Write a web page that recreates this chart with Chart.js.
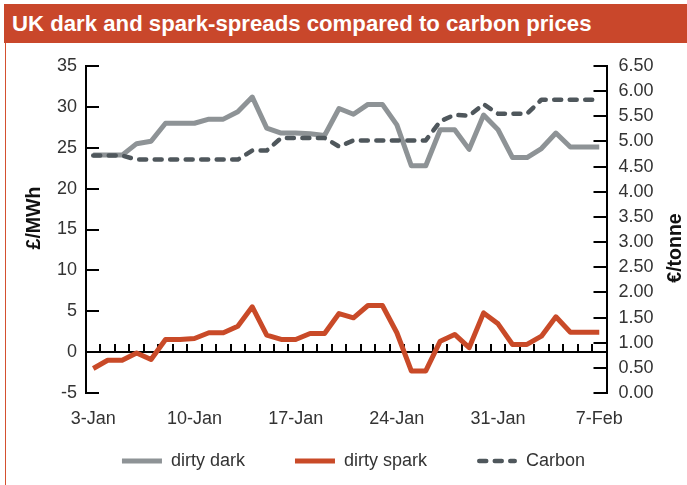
<!DOCTYPE html>
<html>
<head>
<meta charset="utf-8">
<style>
html,body{margin:0;padding:0;background:#fff;}
#wrap{position:relative;width:687px;height:485px;overflow:hidden;background:#fff;}
#banner{position:absolute;left:4px;top:4px;width:683px;height:39px;background:#C9472B;color:#fff;
  font:bold 22.2px "Liberation Sans",Arial,Helvetica,sans-serif;line-height:39px;padding-left:8px;box-sizing:border-box;white-space:nowrap;}
#frame{position:absolute;left:5px;top:43px;width:0;height:442px;border-left:1.5px solid #D4502F;}
canvas{position:absolute;left:0;top:0;}
</style>
<script src="https://cdn.jsdelivr.net/npm/chart.js@4"></script>
</head>
<body>
<div id="wrap">
  <canvas id="c" width="687" height="485"></canvas>
  <div id="frame"></div>
  <div id="banner">UK dark and spark-spreads compared to carbon prices</div>
</div>
<script>
const categories = ['3-Jan','4-Jan','5-Jan','6-Jan','7-Jan','8-Jan','9-Jan','10-Jan','11-Jan','12-Jan',
  '13-Jan','14-Jan','15-Jan','16-Jan','17-Jan','18-Jan','19-Jan','20-Jan','21-Jan','22-Jan',
  '23-Jan','24-Jan','25-Jan','26-Jan','27-Jan','28-Jan','29-Jan','30-Jan','31-Jan','1-Feb',
  '2-Feb','3-Feb','4-Feb','5-Feb','6-Feb','7-Feb'];
const dirtyDark = [24.1,24.1,24.1,25.5,25.8,28.0,28.0,28.0,28.5,28.5,29.4,31.2,27.4,26.8,26.8,26.7,26.5,29.8,
  29.1,30.3,30.3,27.8,22.8,22.8,27.2,27.2,24.8,29.0,27.2,23.8,23.8,24.9,26.8,25.1,25.1,25.1];
const dirtySpark = [-2.0,-1.0,-1.0,-0.1,-0.9,1.55,1.55,1.67,2.37,2.37,3.17,5.54,2.07,1.55,1.55,2.28,2.28,4.72,
  4.2,5.7,5.7,2.37,-2.3,-2.3,1.34,2.16,0.54,4.8,3.46,0.94,0.94,1.95,4.32,2.44,2.44,2.44];
const carbon = [4.72,4.72,4.72,4.64,4.64,4.64,4.64,4.64,4.64,4.64,4.64,4.82,4.82,5.07,5.07,5.07,5.07,4.90,
  5.02,5.02,5.02,5.02,5.02,5.02,5.40,5.53,5.51,5.74,5.55,5.55,5.55,5.83,5.83,5.83,5.83,5.83];
const leftAxis = {min: -5, max: 35, step: 5, title: '£/MWh'};
const rightAxis = {min: 0, max: 6.5, step: 0.5, title: '€/tonne'};
const labelEvery = 7;

const FONT = '"Liberation Sans", Arial, Helvetica, sans-serif';
const TEXT = '#333333';

const decor = {
  id: 'decor',
  beforeDatasetsDraw(chart) {
    const {ctx, chartArea: a, scales: {x, y, y2}} = chart;
    ctx.save();
    ctx.strokeStyle = '#000';
    ctx.lineWidth = 2;
    ctx.beginPath();
    y.ticks.forEach(t => { const p = Math.round(y.getPixelForValue(t.value)); ctx.moveTo(a.left, p); ctx.lineTo(a.left + 13, p); });
    y2.ticks.forEach(t => { const p = Math.round(y2.getPixelForValue(t.value)); ctx.moveTo(a.right, p); ctx.lineTo(a.right - 13, p); });
    const y0 = Math.round(y.getPixelForValue(0));
    ctx.moveTo(a.left, y0); ctx.lineTo(a.right, y0);
    for (let i = 1; i < categories.length; i++) {
      const px = Math.round((x.getPixelForValue(i - 1) + x.getPixelForValue(i)) / 2);
      ctx.moveTo(px, y0); ctx.lineTo(px, y0 - 8);
    }
    ctx.stroke();
    ctx.restore();
  },
  afterDraw(chart) {
    const {ctx, chartArea: a} = chart;
    ctx.save();
    // axis titles
    ctx.fillStyle = '#111';
    ctx.font = 'bold 19.5px ' + FONT;
    ctx.textAlign = 'center';
    ctx.textBaseline = 'middle';
    ctx.translate(35, 218); ctx.rotate(-Math.PI / 2); ctx.fillText(leftAxis.title, 0, 0);
    ctx.setTransform(1, 0, 0, 1, 0, 0);
    ctx.translate(676, 248); ctx.rotate(-Math.PI / 2); ctx.fillText(rightAxis.title, 0, 0);
    ctx.setTransform(1, 0, 0, 1, 0, 0);
    // legend
    const sw = 40, gapText = 9, gapItem = 50, ly = a.bottom + 68;
    ctx.font = '18px ' + FONT;
    ctx.textAlign = 'left';
    const ds = chart.data.datasets;
    const widths = ds.map(d => sw + gapText + ctx.measureText(d.label).width);
    const total = widths.reduce((s, w) => s + w, 0) + gapItem * (ds.length - 1);
    let lx = (chart.width + 20 - total) / 2;
    ds.forEach((d, i) => {
      ctx.beginPath();
      ctx.strokeStyle = d.borderColor;
      ctx.lineWidth = d.borderWidth;
      ctx.lineCap = d.borderCapStyle;
      ctx.setLineDash(d.borderDash || []);
      const inset = d.borderCapStyle === 'round' ? d.borderWidth / 2 : 0;
      ctx.moveTo(lx + inset, ly); ctx.lineTo(lx + sw - inset, ly);
      ctx.stroke();
      ctx.setLineDash([]);
      ctx.fillStyle = TEXT;
      ctx.fillText(d.label, lx + sw + gapText, ly);
      lx += widths[i] + gapItem;
    });
    ctx.restore();
  }
};

new Chart(document.getElementById('c'), {
  type: 'line',
  data: {
    labels: categories,
    datasets: [
      {label: 'dirty dark', data: dirtyDark, yAxisID: 'y', borderColor: '#8E9396', backgroundColor: '#8E9396',
        borderWidth: 5, pointRadius: 0, tension: 0, borderJoinStyle: 'round', borderCapStyle: 'butt', order: 2},
      {label: 'dirty spark', data: dirtySpark, yAxisID: 'y', borderColor: '#C94A28', backgroundColor: '#C94A28',
        borderWidth: 5, pointRadius: 0, tension: 0, borderJoinStyle: 'round', borderCapStyle: 'butt', order: 1},
      {label: 'Carbon', data: carbon, yAxisID: 'y2', borderColor: '#4F575C', backgroundColor: '#4F575C',
        borderWidth: 4.5, borderDash: [7, 8.5], pointRadius: 0, tension: 0, borderJoinStyle: 'round', borderCapStyle: 'round', order: 0}
    ]
  },
  options: {
    responsive: false, animation: false, devicePixelRatio: 1,
    events: [],
    layout: {padding: {left: 14, right: 0, top: 66, bottom: 40.4}},
    scales: {
      x: {
        type: 'category', offset: true,
        grid: {display: false, drawTicks: false, offset: true},
        border: {display: false},
        ticks: {autoSkip: false, maxRotation: 0, minRotation: 0, padding: 15, color: TEXT,
          font: {family: FONT, size: 18},
          callback: (v, i) => (i % labelEvery === 0 ? categories[i] : '')}
      },
      y: {
        position: 'left', min: leftAxis.min, max: leftAxis.max,
        ticks: {stepSize: leftAxis.step, autoSkip: false, padding: 9, color: TEXT, font: {family: FONT, size: 18}},
        grid: {display: false, drawTicks: false},
        border: {display: true, color: '#000', width: 2},
        afterFit: s => { s.width = 72; }
      },
      y2: {
        position: 'right', min: rightAxis.min, max: rightAxis.max,
        ticks: {stepSize: rightAxis.step, autoSkip: false, padding: 12, color: TEXT, font: {family: FONT, size: 18},
          callback: v => Number(v).toFixed(2)},
        grid: {display: false, drawTicks: false},
        border: {display: true, color: '#000', width: 2},
        afterFit: s => { s.width = 80.5; }
      }
    },
    plugins: {
      tooltip: {enabled: false},
      legend: {display: false}
    }
  },
  plugins: [decor]
});
</script>
</body>
</html>
